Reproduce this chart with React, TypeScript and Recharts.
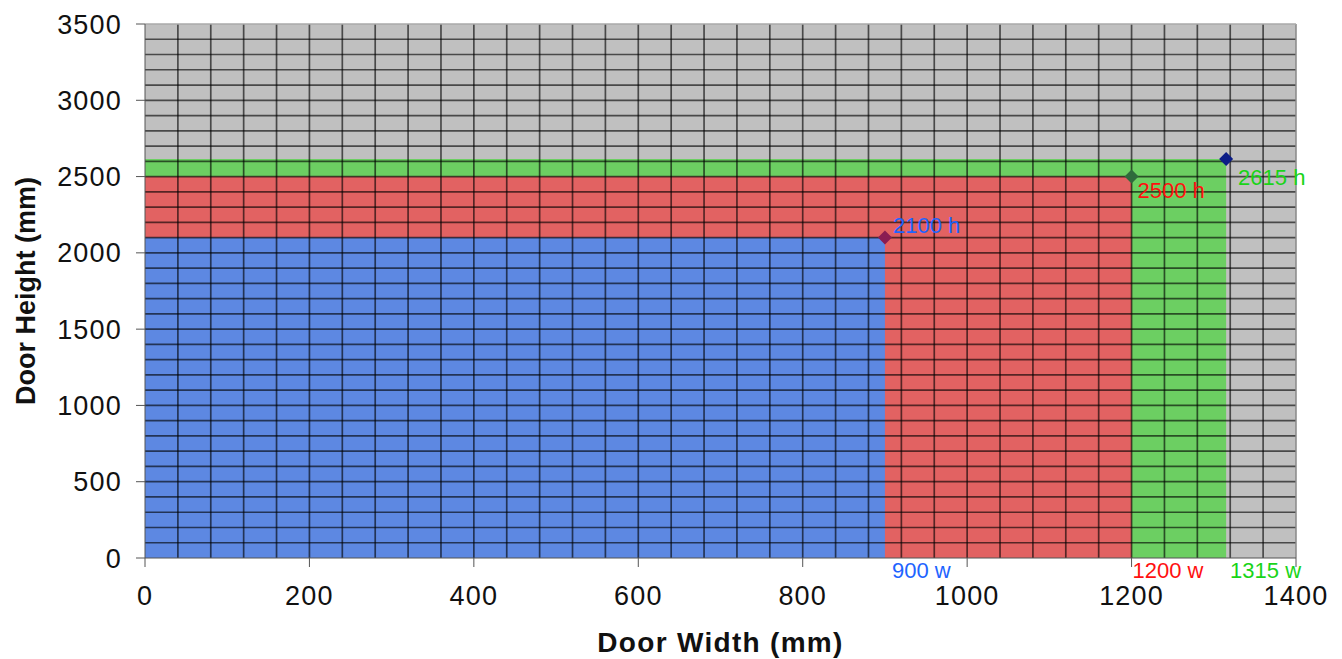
import React from 'react';
import {
  ScatterChart,
  Scatter,
  XAxis,
  YAxis,
  ReferenceArea,
  ReferenceLine,
  Label,
} from 'recharts';

// ---- data ----
const doorNames = ['Standard', 'Wide', 'Extra wide'];
const doorWidths = [900, 1200, 1315];
const doorHeights = [2100, 2500, 2615];
const heightLabels = ['2100 h', '2500 h', '2615 h'];
const widthLabels = ['900 w', '1200 w', '1315 w'];

const xTicks = [0, 200, 400, 600, 800, 1000, 1200, 1400];
const yTicks = [0, 500, 1000, 1500, 2000, 2500, 3000, 3500];

const X_MAX = 1400;
const Y_MAX = 3500;
const X_MINOR_STEP = 40;
const Y_MINOR_STEP = 100;

// ---- styles ----
const areaFills = ['#5d88e2', '#e26262', '#6ccf62'];
const labelColors = ['#1e64ff', '#ff1010', '#19d419'];
const pointColors = ['#8a1c52', '#2f6a3c', '#0c1d86'];
const hLabelOffsets = [
  { dx: 8, dy: -5 },
  { dx: 6, dy: 21 },
  { dx: 12, dy: 26 },
];
const wLabelOffsets = [{ dx: 7 }, { dx: 1 }, { dx: 4 }];

const FONT = '"Liberation Sans", Arial, Helvetica, sans-serif';

const gridX: number[] = [];
for (let v = X_MINOR_STEP; v < X_MAX; v += X_MINOR_STEP) gridX.push(v);
const gridY: number[] = [];
for (let v = Y_MINOR_STEP; v < Y_MAX; v += Y_MINOR_STEP) gridY.push(v);

const points = doorWidths.map((w, i) => ({ x: w, y: doorHeights[i], idx: i, name: doorNames[i] }));
const widthMarks = doorWidths.map((w, i) => ({ x: w, y: 0, idx: i }));

const PointShape = (props: any) => {
  const { cx, cy, payload } = props;
  const i = payload.idx;
  const r = 7;
  const off = hLabelOffsets[i];
  return (
    <g>
      <polygon
        points={`${cx},${cy - r} ${cx + r},${cy} ${cx},${cy + r} ${cx - r},${cy}`}
        fill={pointColors[i]}
      />
      <text
        x={cx + off.dx}
        y={cy + off.dy}
        fill={labelColors[i]}
        fontSize={22}
        fontFamily={FONT}
      >
        {heightLabels[i]}
      </text>
    </g>
  );
};

const WidthLabelShape = (props: any) => {
  const { cx, cy, payload } = props;
  const i = payload.idx;
  return (
    <text
      x={cx + wLabelOffsets[i].dx}
      y={cy + 20}
      fill={labelColors[i]}
      fontSize={22}
      fontFamily={FONT}
    >
      {widthLabels[i]}
    </text>
  );
};

const YTitle = (props: any) => {
  const vb = props.viewBox || {};
  const cy = vb.y + vb.height / 2;
  const x = 35;
  return (
    <text
      x={x}
      y={cy}
      transform={`rotate(-90 ${x} ${cy})`}
      textAnchor="middle"
      fontSize={27}
      fontWeight="bold"
      fontFamily={FONT}
      fill="#111"
    >
      Door Height (mm)
    </text>
  );
};

const XTitle = (props: any) => {
  const vb = props.viewBox || {};
  const cx = vb.x + vb.width / 2;
  return (
    <text
      x={cx}
      y={652}
      textAnchor="middle"
      fontSize={28}
      fontWeight="bold"
      letterSpacing={1.3}
      fontFamily={FONT}
      fill="#111"
    >
      Door Width (mm)
    </text>
  );
};

export default function App() {
  const tickStyle = { fill: '#111', fontSize: 27, fontFamily: FONT, letterSpacing: 1.2 };
  return (
    <div style={{ position: 'absolute', left: 0, top: 0, width: 1342, height: 659, background: '#fff' }}>
      <ScatterChart
        width={1342}
        height={659}
        margin={{ top: 24, right: 46, left: 0, bottom: 0 }}
      >
        <XAxis
          type="number"
          dataKey="x"
          domain={[0, X_MAX]}
          ticks={xTicks}
          interval={0}
          height={101}
          tickSize={9}
          tickMargin={19}
          stroke="#555"
          tick={tickStyle}
        >
          <Label content={<XTitle />} />
        </XAxis>
        <YAxis
          type="number"
          dataKey="y"
          domain={[0, Y_MAX]}
          ticks={yTicks}
          interval={0}
          width={145}
          tickSize={9}
          tickMargin={14}
          stroke="#555"
          tick={tickStyle}
        >
          <Label content={<YTitle />} />
        </YAxis>

        <ReferenceArea x1={0} x2={X_MAX} y1={0} y2={Y_MAX} fill="#c0c0c0" fillOpacity={1} stroke="none" />
        {[2, 1, 0].map((i) => (
          <ReferenceArea
            key={`area-${i}`}
            x1={0}
            x2={doorWidths[i]}
            y1={0}
            y2={doorHeights[i]}
            fill={areaFills[i]}
            fillOpacity={1}
            stroke="none"
          />
        ))}
        {gridX.map((v) => (
          <ReferenceLine key={`gx-${v}`} x={v} stroke="#000" strokeOpacity={0.62} strokeWidth={1.7} />
        ))}
        {gridY.map((v) => (
          <ReferenceLine key={`gy-${v}`} y={v} stroke="#000" strokeOpacity={0.62} strokeWidth={1.7} />
        ))}
        <ReferenceLine x={X_MAX} stroke="#888" strokeWidth={1.5} />
        <ReferenceLine y={Y_MAX} stroke="#aaa" strokeWidth={1.5} />

        <Scatter data={widthMarks} shape={<WidthLabelShape />} isAnimationActive={false} />
        <Scatter data={points} shape={<PointShape />} isAnimationActive={false} />
      </ScatterChart>
    </div>
  );
}
